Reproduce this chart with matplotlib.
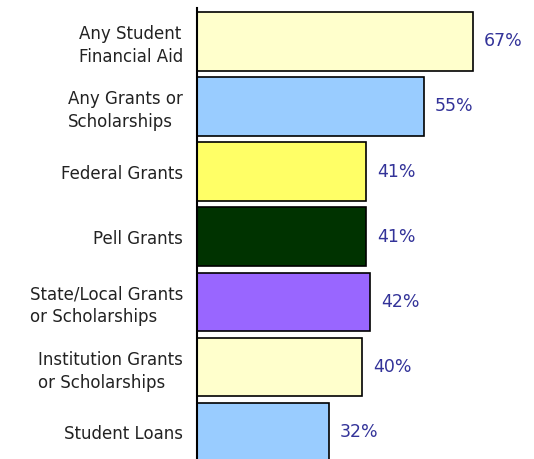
import matplotlib.pyplot as plt
import numpy as np

categorias = ["Any Student\nFinancial Aid", "Any Grants or\nScholarships", "Federal Grants",
              "Pell Grants", "State/Local Grants\nor Scholarships",
              "Institution Grants\nor Scholarships", "Student Loans"]
porcentajes = [67, 55, 41, 41, 42, 40, 32]
colores = ["#FFFFCC", "#99CCFF", "#FFFF66", "#003300", "#9966FF", "#FFFFCC", "#99CCFF"]

fig = plt.figure(figsize=(5.34, 4.59), dpi=100)
ax = fig.add_axes([197 / 534, 0, 330 / 534, 451 / 459])

y = np.arange(len(categorias))
ax.barh(y, porcentajes, height=0.9, color=colores, edgecolor="black", linewidth=1.2)

for yi, v in zip(y, porcentajes):
    ax.text(v + 2.6, yi, f"{v}%", va="center", ha="left", fontsize=12.5, color="#333399")

ax.set_yticks(y)
ax.set_yticklabels(categorias, fontsize=12, ha="right", multialignment="left",
                   linespacing=1.32, color="#222222")
ax.tick_params(axis="y", length=0, pad=10)
ax.set_xticks([])
ax.set_xlim(0, 80)
ax.set_ylim(6.41, -0.51)

for lado in ["top", "right", "bottom"]:
    ax.spines[lado].set_visible(False)
ax.spines["left"].set_linewidth(1.5)

fig.savefig("out.png", dpi=100)
